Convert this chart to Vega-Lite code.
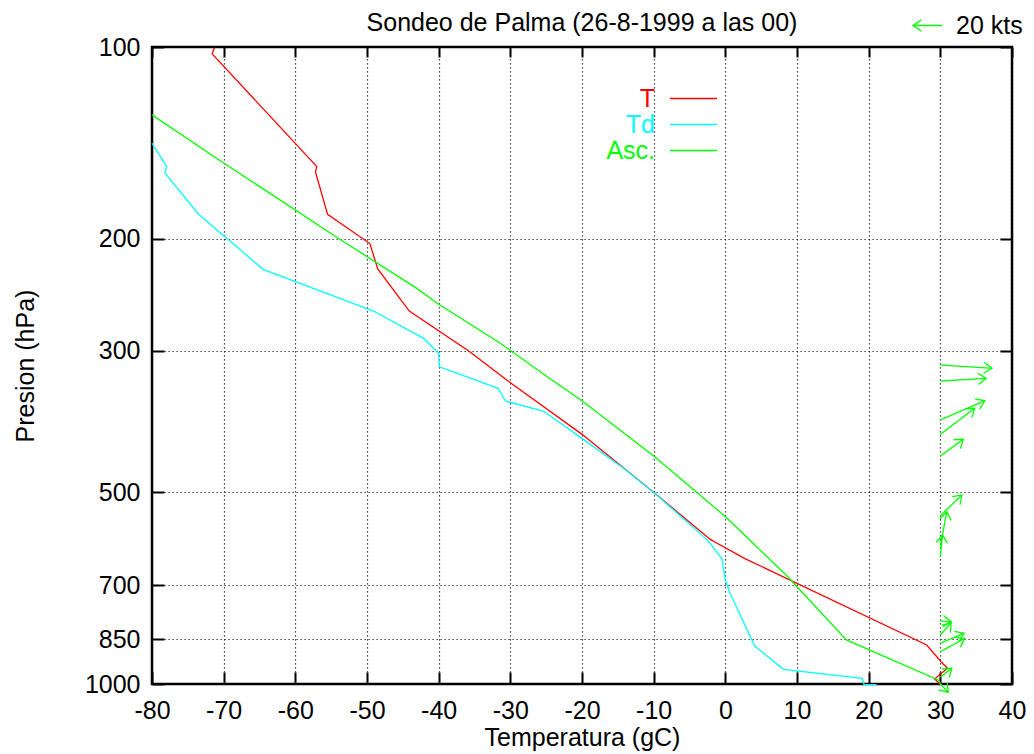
{
  "$schema": "https://vega.github.io/schema/vega-lite/v6.json",
  "width": 860,
  "height": 637,
  "autosize": "none",
  "padding": {"left": 152, "top": 47, "right": 22, "bottom": 70},
  "background": "white",
  "config": {
    "font": "Liberation Sans",
    "view": {"stroke": "#000", "strokeWidth": 2.5},
    "axis": {
      "labelFont": "Liberation Sans", "labelFontSize": 25, "labelColor": "#000",
      "titleFont": "Liberation Sans", "titleFontSize": 25, "titleFontWeight": "normal", "titleColor": "#000",
      "domain": false, "tickColor": "#000", "tickWidth": 2,
      "gridColor": "#000", "gridDash": [1.2, 2.8], "gridWidth": 1.2, "gridOpacity": 0.9,
      "labelFlush": false, "labelOverlap": false
    },
    "legend": {"labelFont": "Liberation Sans", "labelFontSize": 25, "padding": 0}
  },
  "title": {"text": "Sondeo de Palma (26-8-1999 a las 00)", "font": "Liberation Sans", "fontSize": 25, "fontWeight": "normal", "color": "#000", "offset": -26},
  "datasets": {
    "sounding": [
      {"s": "T", "t": -71.3, "p": 100.3}, {"s": "T", "t": -71.6, "p": 102.5}, {"s": "T", "t": -57.0, "p": 154.1},
      {"s": "T", "t": -57.2, "p": 157}, {"s": "T", "t": -55.5, "p": 183.1}, {"s": "T", "t": -49.6, "p": 203.5},
      {"s": "T", "t": -48.5, "p": 223.1}, {"s": "T", "t": -44.1, "p": 259.7}, {"s": "T", "t": -35.8, "p": 300},
      {"s": "T", "t": -30.5, "p": 333.3}, {"s": "T", "t": -20, "p": 405.6}, {"s": "T", "t": -10, "p": 500},
      {"s": "T", "t": -2.1, "p": 592.9}, {"s": "T", "t": -1.4, "p": 599}, {"s": "T", "t": 2.8, "p": 636},
      {"s": "T", "t": 28.1, "p": 868.6}, {"s": "T", "t": 30.1, "p": 922.6}, {"s": "T", "t": 31.0, "p": 944.9},
      {"s": "T", "t": 29.2, "p": 982}, {"s": "T", "t": 30.1, "p": 1003},
      {"s": "Td", "t": -80, "p": 141.6}, {"s": "Td", "t": -77.95, "p": 154.1}, {"s": "Td", "t": -78.2, "p": 157.6},
      {"s": "Td", "t": -73.5, "p": 183}, {"s": "Td", "t": -64.5, "p": 223.4}, {"s": "Td", "t": -49.1, "p": 259.7},
      {"s": "Td", "t": -42.1, "p": 286.7}, {"s": "Td", "t": -40.0, "p": 302.6}, {"s": "Td", "t": -39.9, "p": 317.7},
      {"s": "Td", "t": -31.7, "p": 343.4}, {"s": "Td", "t": -30.7, "p": 359.6}, {"s": "Td", "t": -25.4, "p": 372.8},
      {"s": "Td", "t": -20, "p": 411.5}, {"s": "Td", "t": -14.2, "p": 458.5}, {"s": "Td", "t": -10, "p": 500},
      {"s": "Td", "t": -2.6, "p": 592.9}, {"s": "Td", "t": -0.5, "p": 635}, {"s": "Td", "t": 0.0, "p": 686.6},
      {"s": "Td", "t": 0.56, "p": 716.4}, {"s": "Td", "t": 4.1, "p": 871.6}, {"s": "Td", "t": 8.1, "p": 948.2},
      {"s": "Td", "t": 19.1, "p": 979.5}, {"s": "Td", "t": 19.35, "p": 1002}, {"s": "Td", "t": 21.1, "p": 1002.5},
      {"s": "Asc.", "t": -80, "p": 127.8}, {"s": "Asc.", "t": -70.8, "p": 150}, {"s": "Asc.", "t": -53.9, "p": 200},
      {"s": "Asc.", "t": -43.1, "p": 239.1}, {"s": "Asc.", "t": -40.05, "p": 253.2}, {"s": "Asc.", "t": -31.4, "p": 291.8},
      {"s": "Asc.", "t": -24.2, "p": 333.3}, {"s": "Asc.", "t": -20, "p": 359.2}, {"s": "Asc.", "t": -10, "p": 438.6},
      {"s": "Asc.", "t": -4.0, "p": 500}, {"s": "Asc.", "t": 0.1, "p": 547.4}, {"s": "Asc.", "t": 3.4, "p": 594.3},
      {"s": "Asc.", "t": 8.8, "p": 680}, {"s": "Asc.", "t": 10, "p": 703.5}, {"s": "Asc.", "t": 16.9, "p": 852.8},
      {"s": "Asc.", "t": 29.7, "p": 985.6}, {"s": "Asc.", "t": 30.1, "p": 1003}
    ],
    "wind": [
      {"t": 30, "p": 315.7, "t2": 37.2, "p2": 319.4, "dir": 3.8},
      {"t": 30, "p": 334.5, "t2": 36.4, "p2": 331.3, "dir": -3.5},
      {"t": 30, "p": 385, "t2": 36.2, "p2": 359.2, "dir": -24},
      {"t": 30, "p": 405.6, "t2": 34.8, "p2": 369.1, "dir": -38},
      {"t": 30, "p": 438.6, "t2": 33.2, "p2": 412.9, "dir": -37.7},
      {"t": 30, "p": 544.3, "t2": 33.0, "p2": 505.0, "dir": -45},
      {"t": 30, "p": 607.4, "t2": 30.9, "p2": 536.5, "dir": -80.6},
      {"t": 30, "p": 631.2, "t2": 30.3, "p2": 583.5, "dir": -85.5},
      {"t": 30, "p": 796.4, "t2": 31.5, "p2": 798.4, "dir": 4},
      {"t": 30, "p": 837.6, "t2": 31.5, "p2": 801.4, "dir": -50.9},
      {"t": 30, "p": 863.1, "t2": 33.3, "p2": 832.5, "dir": -23.2},
      {"t": 30, "p": 889.9, "t2": 33.4, "p2": 847.9, "dir": -29.2},
      {"t": 30, "p": 974.9, "t2": 31.6, "p2": 944.8, "dir": -39.1},
      {"t": 30, "p": 1000, "t2": 31.1, "p2": 1030.4, "dir": 48.7}
    ]
  },
  "layer": [
    {
      "data": {"name": "sounding"},
      "mark": {"type": "line", "strokeWidth": 1.3},
      "encoding": {
        "x": {"field": "t", "type": "quantitative",
          "scale": {"domain": [-80, 40], "nice": false, "zero": false},
          "axis": {"orient": "bottom", "values": [-80, -70, -60, -50, -40, -30, -20, -10, 0, 10, 20, 30, 40],
            "labelExpr": "datum.value < 0 ? '-' + abs(datum.value) : '' + datum.value",
            "title": "Temperatura (gC)", "grid": true, "ticks": true, "tickSize": -12, "labelPadding": 26, "titlePadding": 2}},
        "y": {"field": "p", "type": "quantitative",
          "scale": {"type": "log", "domain": [100, 1000], "reverse": true, "nice": false},
          "axis": {"orient": "left", "values": [100, 200, 300, 500, 700, 850, 1000], "format": "d",
            "title": "Presion (hPa)", "grid": true, "ticks": true, "tickSize": -12, "labelPadding": 24, "titlePadding": 46}},
        "color": {"field": "s", "type": "nominal",
          "scale": {"domain": ["T", "Td", "Asc."], "range": ["#ff0000", "#00ffff", "#00ff00"]},
          "legend": {"orient": "none", "legendX": 529, "legendY": 39, "title": null,
            "symbolType": "M-2,0L2,0", "symbolSize": 552, "symbolStrokeWidth": 1.3, "symbolFillColor": "transparent",
            "labelFontSize": 25, "labelAlign": "right", "labelOffset": -51, "rowPadding": 0,
            "encode": {"labels": {"update": {"fill": {"scale": "color", "field": "value"}}}}}},
        "order": {"field": "p", "type": "quantitative"}
      }
    },
    {
      "data": {"name": "wind"},
      "mark": {"type": "rule", "color": "#00ff00", "strokeWidth": 1.3},
      "encoding": {
        "x": {"field": "t", "type": "quantitative", "scale": {"domain": [-80, 40], "nice": false, "zero": false},
          "axis": {"orient": "top", "values": [-80, -70, -60, -50, -40, -30, -20, -10, 0, 10, 20, 30, 40],
            "labels": false, "title": null, "grid": false, "ticks": true, "tickSize": -10}},
        "y": {"field": "p", "type": "quantitative", "scale": {"type": "log", "domain": [100, 1000], "reverse": true, "nice": false},
          "axis": {"orient": "right", "values": [100, 200, 300, 500, 700, 850, 1000],
            "labels": false, "title": null, "grid": false, "ticks": true, "tickSize": -12}},
        "x2": {"field": "t2"},
        "y2": {"field": "p2"},
        "strokeDash": {"datum": "20 kts", "scale": {"range": [[1, 0]]},
          "legend": {"orient": "none", "legendX": 760, "legendY": -37, "title": null,
            "symbolType": "M-1,0L1,0M-0.43,-0.39L-1,0L-0.43,0.39", "symbolSize": 841,
            "symbolStrokeColor": "#00ff00", "symbolStrokeWidth": 1.3, "symbolFillColor": "transparent",
            "labelFontSize": 25, "labelColor": "#000", "labelOffset": 13}}
      }
    },
    {
      "data": {"name": "wind"},
      "mark": {"type": "point", "shape": "M-1,-0.7L0,0L-1,0.7", "size": 256, "filled": false, "stroke": "#00ff00", "strokeWidth": 1.3, "opacity": 1},
      "encoding": {
        "x": {"field": "t2", "type": "quantitative", "scale": {"domain": [-80, 40], "nice": false, "zero": false}, "axis": null},
        "y": {"field": "p2", "type": "quantitative", "scale": {"type": "log", "domain": [100, 1000], "reverse": true, "nice": false}, "axis": null},
        "angle": {"field": "dir", "type": "quantitative", "scale": null}
      }
    }
  ],
  "resolve": {"axis": {"x": "independent", "y": "independent"}}
}
